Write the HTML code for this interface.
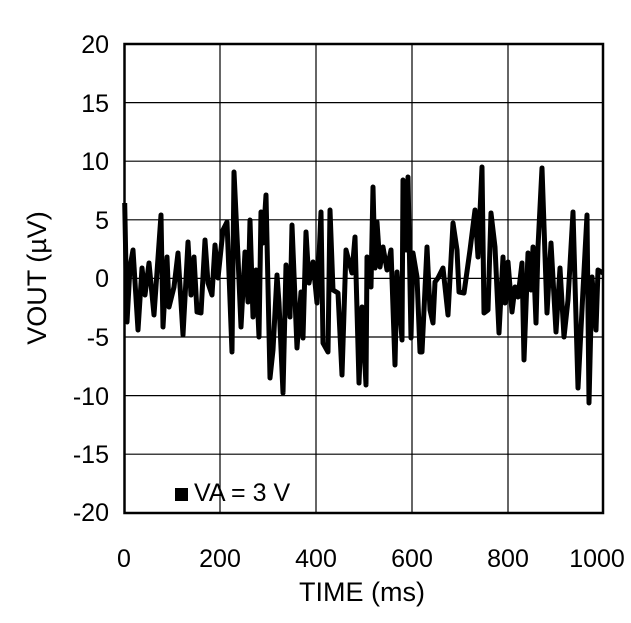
<!DOCTYPE html>
<html><head><meta charset="utf-8"><style>
body{margin:0;background:#fff}
svg{display:block;font-family:"Liberation Sans",sans-serif}
</style></head><body>
<svg width="631" height="623" viewBox="0 0 631 623">
<rect width="631" height="623" fill="#fff"/>
<g stroke="#000" stroke-width="1.2">
<line x1="220" y1="44" x2="220" y2="513"/><line x1="316" y1="44" x2="316" y2="513"/>
<line x1="412" y1="44" x2="412" y2="513"/><line x1="508" y1="44" x2="508" y2="513"/>
<line x1="124" y1="102.6" x2="603" y2="102.6"/><line x1="124" y1="161.2" x2="603" y2="161.2"/>
<line x1="124" y1="219.8" x2="603" y2="219.8"/><line x1="124" y1="278.4" x2="603" y2="278.4"/>
<line x1="124" y1="337" x2="603" y2="337"/><line x1="124" y1="395.6" x2="603" y2="395.6"/>
<line x1="124" y1="454.2" x2="603" y2="454.2"/>
</g>
<rect x="124.5" y="44" width="478.5" height="469" fill="none" stroke="#000" stroke-width="2.5"/>
<polyline fill="none" stroke="#000" stroke-width="5" stroke-linejoin="round" points="124.7,203 127,322 130,267 133,250 138,330 142,268 145,295 149,263 154,315 161,215 163,327 167,257 169,307 174,287 178,253 183,335 188,242 191,295 194,257 197,312 201,313 205,240 208,283 212,295 215,245 218,278 223,230 227,222 232,352 234,172 238,257 241,327 245,252 248,302 250,220 253,317 256,270 259,337 261,212 263,243 266,195 270,378 273,350 277,275 279,303 283,393 286,265 290,317 292,225 297,348 301,292 303,338 306,232 309,283 313,262 317,303 321,212 323,343 328,352 330,210 333,290 338,293 342,375 346,250 352,273 355,237 359,383 362,307 366,385 367,257 371,287 373,187 375,268 377,222 380,267 383,247 387,270 391,250 395,365 397,272 402,340 403,180 406,250 408,177 411,338 413,253 417,277 420,352 422,352 427,247 430,310 433,323 435,282 438,278 443,268 448,315 453,223 457,250 459,292 464,293 470,250 475,210 478,257 482,167 484,313 488,310 491,213 495,247 499,333 503,257 505,303 508,262 512,312 515,287 518,297 522,263 524,360 528,253 531,290 533,247 536,323 538,247 542,168 547,313 551,243 556,332 560,268 564,337 568,300 573,212 578,388 583,290 587,215 589,403 592,277 596,330 598,270 603,273"/>
<g font-size="25" text-anchor="end" fill="#000">
<text x="109" y="53">20</text><text x="109" y="112">15</text><text x="109" y="170">10</text>
<text x="109" y="229">5</text><text x="109" y="287">0</text><text x="109" y="346">-5</text>
<text x="109" y="405">-10</text><text x="109" y="463">-15</text><text x="109" y="521">-20</text>
</g>
<g font-size="25" text-anchor="middle" fill="#000">
<text x="124" y="567">0</text><text x="220" y="567">200</text><text x="316" y="567">400</text>
<text x="412" y="567">600</text><text x="508" y="567">800</text><text x="597" y="567">1000</text>
</g>
<g font-size="27" text-anchor="middle" fill="#000">
<text x="362" y="601">TIME (ms)</text>
<text transform="translate(46,278) rotate(-90)">VOUT (µV)</text>
</g>
<rect x="175" y="488" width="13" height="13" fill="#000"/>
<text x="194" y="501" font-size="25">VA = 3 V</text>
</svg>
</body></html>
